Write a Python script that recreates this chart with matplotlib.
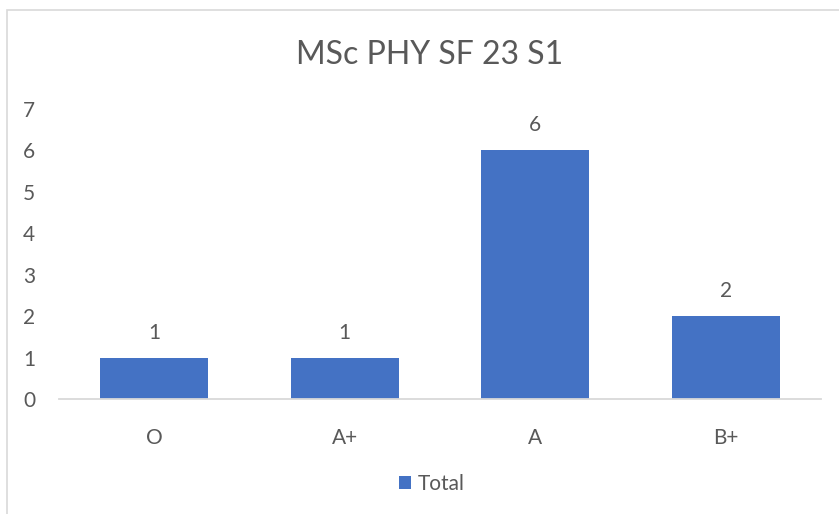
import matplotlib
matplotlib.use("Agg")
import matplotlib.pyplot as plt
from matplotlib.patches import Rectangle

# -----------------------------
# Data
# -----------------------------
grades = ["O", "A+", "A", "B+"]
totals = [1, 1, 6, 2]
y_ticks = [0, 1, 2, 3, 4, 5, 6, 7]

bar_color = "#4472C4"
text_color = "#595959"
plt.rcParams["font.family"] = ["Lato", "DejaVu Sans"]

# -----------------------------
# Plot
# -----------------------------
fig = plt.figure(figsize=(8.39, 5.14), dpi=100)
ax = fig.add_axes([59 / 839, 115 / 514, 762 / 839, 290 / 514])

bars = ax.bar(range(len(grades)), totals, width=0.567, color=bar_color, label="Total")
for b, v in zip(bars, totals):
    ax.annotate(str(v), (b.get_x() + b.get_width() / 2, v), xytext=(0, 18),
                textcoords="offset points", ha="center", va="center",
                fontsize=15, color=text_color)

ax.set_xlim(-0.5, len(grades) - 0.5)
ax.set_ylim(0, 7)
ax.set_yticks(y_ticks)
ax.set_xticks(range(len(grades)))
ax.set_xticklabels(grades)
ax.tick_params(axis="both", length=0, labelsize=15, colors=text_color)
ax.tick_params(axis="y", pad=17)
ax.tick_params(axis="x", pad=21)
for s in ["top", "right", "left"]:
    ax.spines[s].set_visible(False)
ax.spines["bottom"].set_color("#D9D9D9")
ax.spines["bottom"].set_linewidth(1.3)

fig.text(430 / 839, 1 - 55 / 514, "MSc PHY SF 23 S1", ha="center", va="center",
         fontsize=23, color=text_color)

leg = fig.legend(loc="center", bbox_to_anchor=(432 / 839, 1 - 484 / 514), frameon=False,
                 fontsize=15, handlelength=0.58, handleheight=0.58, handletextpad=0.34)
for t in leg.get_texts():
    t.set_color(text_color)

# chart border
fig.patches.append(Rectangle((7 / 839, -0.1), 1.2, 1 - 10 / 514 + 0.1, transform=fig.transFigure,
                             fill=False, edgecolor="#D9D9D9", linewidth=1.2))

fig.savefig("out.png", dpi=100)
